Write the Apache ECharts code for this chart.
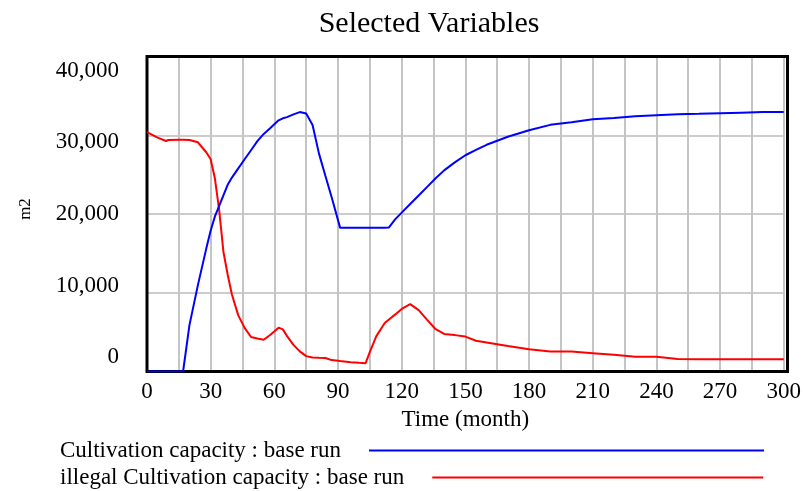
<!DOCTYPE html>
<html>
<head>
<meta charset="utf-8">
<script src="https://cdn.jsdelivr.net/npm/echarts@6/dist/echarts.min.js"></script>
<style>
  html, body { margin: 0; padding: 0; background: #fff; }
  #chart { width: 804px; height: 491px; }
</style>
</head>
<body>
<div id="chart"></div>
<script>
// Simulation output (time in months, values in m2)
const months = [0, 5, 9, 10, 16, 17, 20, 24, 28, 30,
  32, 34, 36, 38, 40, 43, 46, 49, 52, 55,
  58, 62, 64, 66, 69, 72, 75, 78, 81, 84,
  87, 91, 96, 100, 103, 105, 108, 112, 114, 117,
  120, 124, 128, 132, 136, 140, 145, 150, 155, 160,
  170, 180, 190, 200, 210, 220, 230, 240, 250, 260,
  270, 280, 290, 300];

const cultivationCapacity = [0, 0, 0, 0, 0, 0, 5890, 11000, 15700, 17900,
  19700, 21020, 22350, 23700, 24620, 25800, 26950, 28100, 29250, 30170,
  30900, 31900, 32150, 32300, 32650, 32940, 32750, 31300, 27700, 24900,
  22130, 18240, 18240, 18240, 18240, 18240, 18240, 18240, 18300, 19350,
  20170, 21270, 22350, 23440, 24530, 25540, 26550, 27460, 28140, 28790,
  29810, 30630, 31320, 31650, 32030, 32200, 32400, 32530, 32660, 32720,
  32800, 32870, 32940, 32960];

const illegalCultivationCapacity = [30400, 29700, 29270, 29400, 29440, 29430, 29400, 29100, 27810, 26960,
  24500, 20530, 15210, 12320, 9780, 7130, 5540, 4380, 4180, 4040,
  4630, 5570, 5350, 4490, 3380, 2560, 1950, 1780, 1740, 1720,
  1450, 1320, 1180, 1100, 1060, 2500, 4460, 6150, 6610, 7250,
  7950, 8550, 7800, 6560, 5370, 4770, 4620, 4430, 3910, 3690,
  3250, 2830, 2530, 2530, 2330, 2120, 1860, 1860, 1600, 1570,
  1570, 1570, 1570, 1570];

const yTickLabels = [0, 10000, 20000, 30000, 40000];

const seriesNames = ['Cultivation capacity : base run', 'illegal Cultivation capacity : base run'];

const FONT = "'Liberation Serif', 'Times New Roman', serif";

// Plot frame (pixels)
const PLOT = { left: 147, right: 16.5, top: 56.5, bottom: 119.5 };
const W = 804, H = 491;

function pairs(xs, ys) {
  return xs.map((x, i) => [x, ys[i]]);
}

const chart = echarts.init(document.getElementById('chart'), null, { renderer: 'canvas' });

chart.setOption({
  animation: false,
  backgroundColor: '#ffffff',
  title: {
    text: 'Selected Variables',
    left: 424,
    textAlign: 'center',
    top: 4,
    textStyle: { fontFamily: FONT, fontSize: 30, fontWeight: 'normal', color: '#000' }
  },
  legend: [
    {
      data: [seriesNames[0]],
      left: 55,
      top: 434,
      align: 'right',
      icon: 'rect',
      itemWidth: 395,
      itemHeight: 2,
      textStyle: { fontFamily: FONT, fontSize: 23, color: '#000', padding: [0, 23, 0, 0] }
    },
    {
      data: [seriesNames[1]],
      left: 55,
      top: 461,
      align: 'right',
      icon: 'rect',
      itemWidth: 331,
      itemHeight: 2,
      textStyle: { fontFamily: FONT, fontSize: 23, color: '#000', padding: [0, 23, 0, 0] }
    }
  ],
  grid: {
    left: PLOT.left,
    right: PLOT.right,
    top: PLOT.top,
    bottom: PLOT.bottom,
    containLabel: false
  },
  graphic: [
    {
      // heavy frame around the plot area
      type: 'rect',
      z: 3,
      silent: true,
      shape: {
        x: PLOT.left,
        y: PLOT.top,
        width: W - PLOT.left - PLOT.right,
        height: H - PLOT.top - PLOT.bottom
      },
      style: { fill: 'none', stroke: '#000', lineWidth: 3 }
    }
  ],
  xAxis: {
    type: 'value',
    min: 0,
    max: 300,
    interval: 30,
    name: 'Time (month)',
    nameLocation: 'middle',
    nameGap: 31,
    nameTextStyle: { fontFamily: FONT, fontSize: 23, color: '#000' },
    axisLine: { show: false },
    axisTick: { show: false },
    axisLabel: { fontFamily: FONT, fontSize: 23, color: '#000', margin: 9 },
    splitLine: { show: true, lineStyle: { color: '#c4c4c4', width: 2 } },
    minorTick: { show: false, splitNumber: 2 },
    minorSplitLine: { show: true, lineStyle: { color: '#c4c4c4', width: 2 } }
  },
  yAxis: [
    {
      type: 'value',
      min: 0,
      max: 40000,
      interval: 10000,
      name: 'm2',
      nameLocation: 'middle',
      nameGap: 113,
      nameRotate: 90,
      nameTextStyle: { fontFamily: FONT, fontSize: 17, color: '#000', padding: [0, 0, 0, 10] },
      axisLine: { show: false },
      axisTick: { show: false },
      axisLabel: { show: false },
      splitLine: { show: true, lineStyle: { color: '#cccccc', width: 2 } }
    },
    {
      // Tick labels of the value axis
      type: 'value',
      position: 'left',
      min: -2000,
      max: 42000,
      axisLine: { show: false },
      axisTick: { show: false },
      splitLine: { show: false },
      axisLabel: {
        customValues: yTickLabels,
        fontFamily: FONT,
        fontSize: 23,
        color: '#000',
        margin: 28,
        formatter: v => Number(v).toLocaleString('en-US')
      }
    }
  ],
  series: [
    {
      name: seriesNames[0],
      type: 'line',
      yAxisIndex: 0,
      data: pairs(months, cultivationCapacity),
      symbol: 'none',
      lineStyle: { color: '#0000ff', width: 2 },
      itemStyle: { color: '#0000ff' },
      z: 5
    },
    {
      name: seriesNames[1],
      type: 'line',
      yAxisIndex: 0,
      data: pairs(months, illegalCultivationCapacity),
      symbol: 'none',
      lineStyle: { color: '#ff0000', width: 2 },
      itemStyle: { color: '#ff0000' },
      z: 4
    }
  ]
});
</script>
</body>
</html>
